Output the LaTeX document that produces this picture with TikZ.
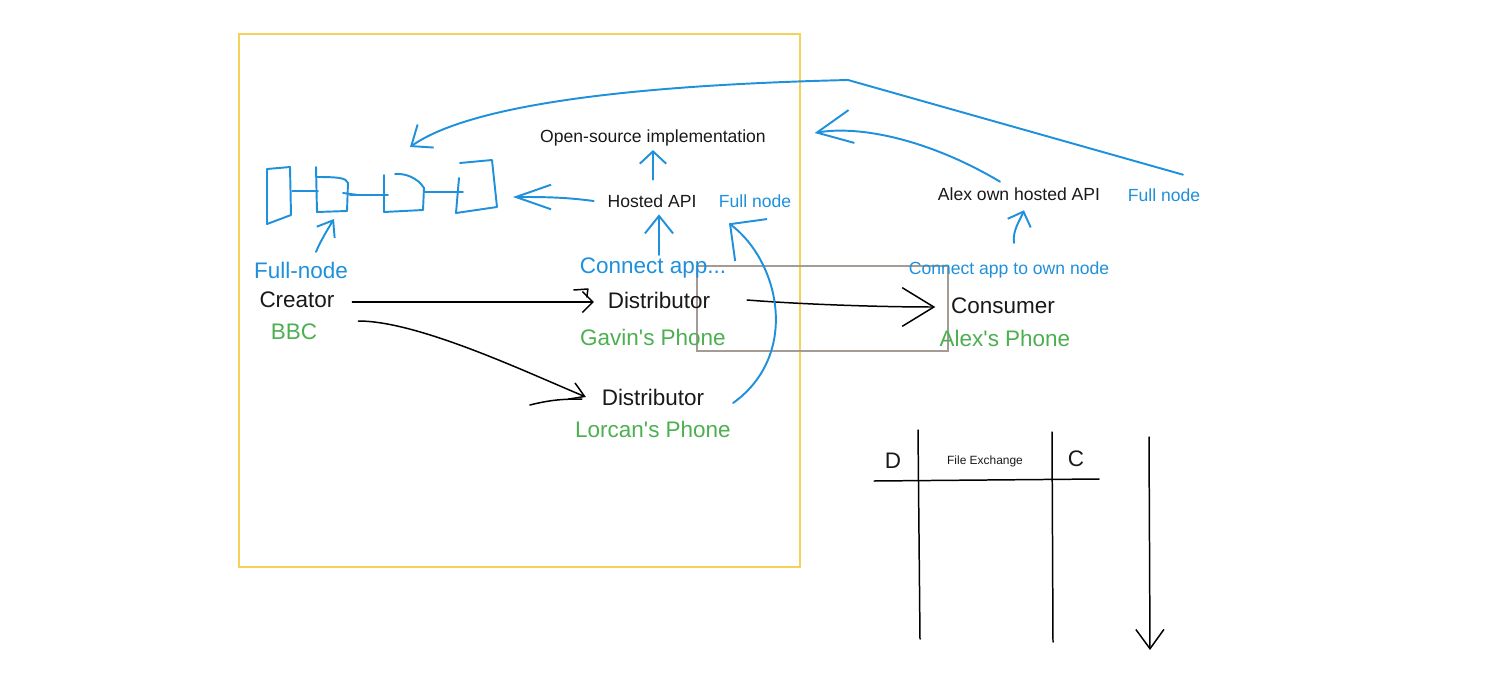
\documentclass[tikz,border=0pt]{standalone}
\usepackage{fontspec}
\setmainfont{Liberation Sans}
\usetikzlibrary{arrows.meta, calc}
\definecolor{penblue}{RGB}{30,144,220}
\definecolor{pengreen}{RGB}{76,175,80}
\definecolor{frameyellow}{RGB}{245,210,90}
\definecolor{framegray}{RGB}{165,155,150}

\begin{document}
\begin{tikzpicture}[x=0.02cm, y=-0.02cm,
      small/.style={font=\fontsize{10}{12}\selectfont, inner sep=2pt, text=black!90},
      big/.style={font=\fontsize{12.8}{15}\selectfont, inner sep=2pt, text=black!90},
      tiny/.style={font=\fontsize{6.8}{8}\selectfont, inner sep=2pt, text=black!90},
      blu/.style={text=penblue},
      grn/.style={text=pengreen},
      pen/.style={draw=penblue, line width=1.1pt, line cap=round, line join=round},
      ink/.style={draw=black, line width=0.85pt, line cap=round, line join=round}]
    \useasboundingbox (0,0) rectangle (1502,700);

    % frames
    \draw[frameyellow, line width=0.6pt] (239,34) rectangle (800,567);
    \draw[framegray, line width=0.6pt] (697,266) rectangle (948,351);

    % labels
    \node[small] (osimpl) at (653,138) {Open-source implementation};
    \node[small] (hostedapi) at (652,201) {Hosted API};
    \node[small, blu] (fullnodeA) at (755,201) {Full node};
    \node[small] (alexapi) at (1019,194) {Alex own hosted API};
    \node[small, blu] (fullnodeB) at (1164,195) {Full node};
    \node[big, blu] (fullnodeL) at (301,270) {Full-node};
    \node[big] (creator) at (297,300) {Creator};
    \node[big, grn] (bbc) at (294,332) {BBC};
    \node[big, blu] (connectapp) at (653,268) {Connect app...};
    \node[big] (gdist) at (659,300) {Distributor};
    \node[big, grn] (gavin) at (653,337) {Gavin\textquotesingle s Phone};
    \node[small, blu] (connectown) at (1009,270) {Connect app to own node};
    \node[big] (consumer) at (1003,306) {Consumer};
    \node[big, grn] (alexphone) at (1005,338) {Alex\textquotesingle s Phone};
    \node[big] (ldist) at (653,397) {Distributor};
    \node[big, grn] (lorcan) at (653,429) {Lorcan\textquotesingle s Phone};
    \node[big] (colD) at (893,461) {D};
    \node[tiny] (colFX) at (985,461) {File Exchange};
    \node[big] (colC) at (1076,459) {C};

    % sketched gates
    \coordinate (gatesTop) at (410,147);
    \coordinate (g2in) at (334,219);
    \coordinate (g4) at (513,197);
    \draw[pen] (267,169) -- (290,167) -- (291,215) -- (267,224) -- cycle;
    \draw[pen] (292,191) -- (318,191);
    \draw[pen] (316,167) -- (317,212) -- (347,211) -- (348,183)
      .. controls (346,178) and (340,177) .. (316,177);
    \draw[pen] (343,193) -- (358,195);
    \draw[pen] (350,195) -- (388,195);
    \draw[pen] (384,175) -- (384,212) -- (423,210) -- (424,188)
      .. controls (418,178) and (405,173) .. (395,174);
    \draw[pen] (425,192) -- (463,192);
    \draw[pen] (460,163) -- (492,160) -- (497,207) -- (456,213) -- (459,178);

    % table
    \draw[ink] (874,481) -- (1099,479);
    \draw[ink] (918,430) -- (920,639);
    \draw[ink] (1052,432) -- (1053,642);
    \coordinate (timeTop) at (1149,437);
    \coordinate (timeBot) at (1150,650);
    \draw[ink, -{Straight Barb[length=11pt, width=16pt]}] (timeTop) -- (timeBot);

    % black flows
    \draw[ink, -{Straight Barb[length=6pt, width=12pt]}]
      ($(creator.east)+(14,2)$) -- ($(gdist.west)+(-10,2)$);
    \draw[ink] ($(gdist.west)+(-30,-10)$) -- ++(14,-1) -- ++(-1,8);
    \draw[ink, -{Straight Barb[length=8pt, width=10pt]}]
      ($(creator.east)+(20,21)$) .. controls +(60,0) and +(-60,-25) .. ($(ldist.west)+(-12,0)$);
    \draw[ink] ($(ldist.west)+(-68,8)$) .. controls +(20,-5) and +(-20,0) .. ($(ldist.west)+(-16,2)$);
    \draw[ink, -{Straight Barb[length=18pt, width=22pt]}]
      ($(gdist.east)+(33,0)$) .. controls +(50,4) and +(-60,0) .. ($(consumer.west)+(-12,1)$);

    % blue flows
    \draw[pen, -{Straight Barb[length=7pt, width=15pt]}]
      ($(hostedapi.north)+(1,-11)$) -- ($(osimpl.south)+(0,0)$);
    \draw[pen, -{Straight Barb[length=10pt, width=16pt]}]
      ($(connectapp.north)+(6,1)$) -- ($(hostedapi.south)+(7,3)$);
    \draw[pen, -{Straight Barb[length=20pt, width=14pt]}]
      ($(hostedapi.west)+(-10,0)$) .. controls +(-30,-4) and +(30,0) .. (g4);
    \draw[pen, -{Straight Barb[length=8pt, width=12pt]}]
      ($(fullnodeL.north)+(15,-6)$) .. controls +(4,-10) and +(-5,8) .. (g2in);
    \draw[pen, -{Straight Barb[length=15pt, width=30pt]}]
      ($(ldist.east)+(25,6)$) .. controls (800,355) and (780,262) .. ($(fullnodeA.south west)+(14,12)$);
    \draw[pen, -{Straight Barb[length=20pt, width=19pt]}]
      ($(alexapi.north)+(-19,-2)$) .. controls (930,140) and (860,125) .. ($(osimpl.east)+(45,-5)$);
    \draw[pen, -{Straight Barb[length=7pt, width=14pt]}]
      ($(connectown.north)+(5,-15)$) .. controls +(-2,-12) and +(-3,8) .. ($(alexapi.south)+(5,6)$);
    \draw[pen, -{Straight Barb[length=10pt, width=16pt]}]
      ($(fullnodeB.north)+(19,-10)$) -- (848,80) .. controls (680,84) and (480,98) .. (gatesTop);
  \end{tikzpicture}
\end{document}
